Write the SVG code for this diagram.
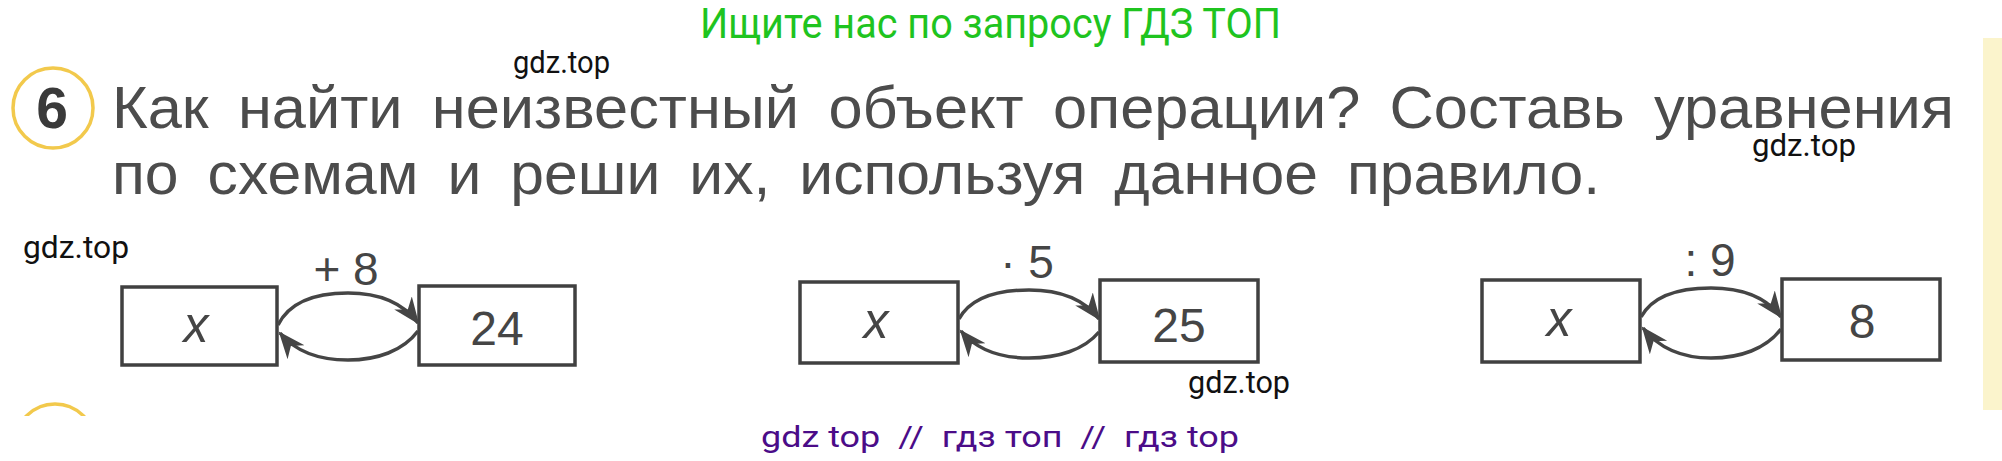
<svg xmlns="http://www.w3.org/2000/svg" width="2002" height="461" viewBox="0 0 2002 461">
<style>
.head{font-family:"Liberation Sans",Arial,sans-serif;font-size:60px;fill:#4c4c4c;word-spacing:12px}
.wm{font-family:Roboto,"Liberation Sans",sans-serif;font-size:32px;fill:#111}
.box{fill:#ffffff;stroke:#404040;stroke-width:3.5}
.val{font-family:"Liberation Sans",Arial,sans-serif;font-size:48px;fill:#454545;text-anchor:middle}
.var{font-family:"Liberation Sans",Arial,sans-serif;font-size:50px;font-style:italic;fill:#454545;text-anchor:middle}
.op{font-family:"Liberation Sans",Arial,sans-serif;font-size:46px;fill:#454545;text-anchor:middle}
.arc{fill:none;stroke:#454545;stroke-width:3.5}
</style>
<defs>
<marker id="ah" markerUnits="userSpaceOnUse" markerWidth="30" markerHeight="24" refX="25" refY="11" orient="auto">
<path d="M0,0 L27,11 L0,22 L8,11 Z" fill="#454545"/>
</marker>
<clipPath id="cut"><rect x="0" y="0" width="2002" height="416"/></clipPath>
</defs>
<rect x="0" y="0" width="2002" height="461" fill="#ffffff"/>
<rect x="1983" y="38" width="19" height="372" fill="#fbf4cc"/>

<g id="banner">
<text x="700" y="38" font-family="Roboto,'Liberation Sans',sans-serif" font-size="42" fill="#1fc41f" textLength="581" lengthAdjust="spacingAndGlyphs">Ищите нас по запросу ГДЗ ТОП</text>
</g>

<g id="task-number">
<circle cx="53" cy="108" r="40" fill="none" stroke="#f2c94c" stroke-width="3.5"/>
<text x="52" y="128" font-family="'Liberation Sans',Arial,sans-serif" font-size="57" font-weight="bold" fill="#3a3a3a" text-anchor="middle">6</text>
</g>

<g id="heading">
<text class="head" x="112" y="128" textLength="1842" lengthAdjust="spacingAndGlyphs">Как найти неизвестный объект операции? Составь уравнения</text>
<text class="head" x="112" y="194" textLength="1488" lengthAdjust="spacingAndGlyphs">по схемам и реши их, используя данное правило.</text>
</g>

<g id="watermarks">
<text class="wm" x="513" y="73" textLength="97" lengthAdjust="spacingAndGlyphs">gdz.top</text>
<text class="wm" x="1752" y="156" textLength="104" lengthAdjust="spacingAndGlyphs">gdz.top</text>
<text class="wm" x="23" y="258" textLength="106" lengthAdjust="spacingAndGlyphs">gdz.top</text>
<text class="wm" x="1188" y="393" textLength="102" lengthAdjust="spacingAndGlyphs">gdz.top</text>
</g>

<g id="d1-x"><rect class="box" x="122" y="287" width="155" height="78"/><text class="var" x="196" y="342">x</text></g>
<g id="d1-24"><rect class="box" x="419" y="286" width="156" height="79"/><text class="val" x="497" y="345">24</text></g>
<g id="d1-op"><text class="op" x="346" y="285">+ 8</text></g>

<g id="d2-x"><rect class="box" x="800" y="282" width="158" height="81"/><text class="var" x="876" y="338">x</text></g>
<g id="d2-25"><rect class="box" x="1100" y="280" width="158" height="82"/><text class="val" x="1179" y="342">25</text></g>
<g id="d2-op"><text class="op" x="1027" y="278">· 5</text></g>

<g id="d3-x"><rect class="box" x="1482" y="280" width="158" height="82"/><text class="var" x="1559" y="336">x</text></g>
<g id="d3-8"><rect class="box" x="1782" y="279" width="158" height="81"/><text class="val" x="1862" y="338">8</text></g>
<g id="d3-op"><text class="op" x="1710" y="276">: 9</text></g>

<g id="connectors">
<path class="arc" marker-end="url(#ah)" d="M278,325 C290,301 317,293 348,293 C379,293 403,303 418,323"/>
<path class="arc" marker-end="url(#ah)" d="M418,331 C403,351 377,360 348,360 C317,360 295,351 280,333"/>

<path class="arc" marker-end="url(#ah)" d="M959,319 C971,297 998,290 1029,290 C1060,290 1084,299 1099,319"/>
<path class="arc" marker-end="url(#ah)" d="M1099,332 C1084,350 1058,358 1029,358 C998,358 976,349 961,331"/>

<path class="arc" marker-end="url(#ah)" d="M1641,317 C1653,295 1680,288 1711,288 C1742,288 1766,297 1781,317"/>
<path class="arc" marker-end="url(#ah)" d="M1781,329 C1766,349 1740,358 1711,358 C1680,358 1658,347 1643,328"/>
</g>

<g id="next-task" clip-path="url(#cut)">
<circle cx="55" cy="444" r="40" fill="none" stroke="#f2c94c" stroke-width="3.5"/>
</g>

<g id="footer">
<text x="761" y="447" xml:space="preserve" font-family="Roboto,'Liberation Sans',sans-serif" font-size="30" fill="#4b0c88" textLength="478" lengthAdjust="spacingAndGlyphs">gdz top  //  гдз топ  //  гдз top</text>
</g>
</svg>
